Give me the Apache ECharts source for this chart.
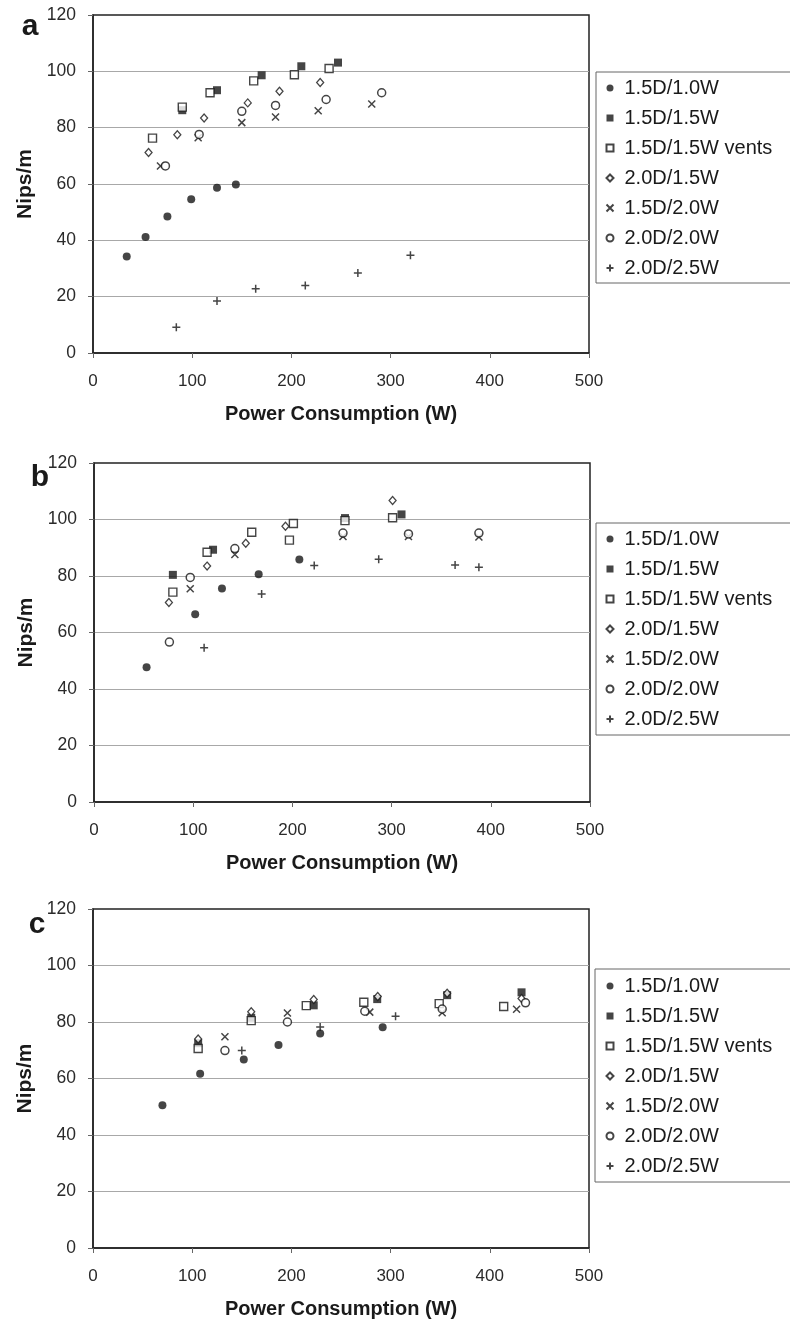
<!DOCTYPE html>
<html>
<head>
<meta charset="utf-8">
<script src="https://cdn.jsdelivr.net/npm/echarts@6/dist/echarts.min.js"></script>
<style>
html,body{margin:0;padding:0;background:#fff;}
#chart{width:790px;height:1324px;}
</style>
</head>
<body>
<div id="chart"></div>
<script>
// ---- Data ----
const seriesNames = ['1.5D/1.0W','1.5D/1.5W','1.5D/1.5W vents','2.0D/1.5W','1.5D/2.0W','2.0D/2.0W','2.0D/2.5W'];
const panelLabels = ['a','b','c'];
const xTicks = [0,100,200,300,400,500];
const yTicks = [0,20,40,60,80,100,120];

// Panel a
const a_15D10W = [[34,34.3],[53,41.2],[75,48.5],[99,54.6],[125,58.7],[144,59.8]];
const a_15D15W = [[90,86.2],[125,93.3],[170,98.6],[210,101.8],[247,103.1]];
const a_15D15Wv = [[60,76.3],[90,87.3],[118,92.4],[162,96.6],[203,98.8],[238,101]];
const a_20D15W = [[56,71.2],[85,77.5],[112,83.4],[156,88.8],[188,92.9],[229,96]];
const a_15D20W = [[68,66.4],[106,76.4],[150,81.8],[184,83.8],[227,86],[281,88.4]];
const a_20D20W = [[73,66.4],[107,77.6],[150,85.8],[184,87.9],[235,90],[291,92.4]];
const a_20D25W = [[84,9.1],[125,18.5],[164,22.8],[214,24],[267,28.4],[320,34.7]];

// Panel b
const b_15D10W = [[53,47.7],[102,66.5],[129,75.6],[166,80.6],[207,85.8]];
const b_15D15W = [[79.5,80.4],[120,89.3],[253,100.5],[310,101.8]];
const b_15D15Wv = [[79.5,74.3],[114,88.4],[159,95.5],[197,92.7],[201,98.6],[253,99.6],[301,100.6]];
const b_20D15W = [[75.5,70.6],[114,83.5],[153,91.6],[193,97.6],[301,106.7]];
const b_15D20W = [[97,75.5],[142,87.6],[251,94],[317,94],[388,93.8]];
const b_20D20W = [[76,56.6],[97,79.5],[142,89.7],[251,95.2],[317,94.9],[388,95.2]];
const b_20D25W = [[111,54.6],[169,73.6],[222,83.7],[287,85.9],[364,83.9],[388,83.1]];

// Panel c
const c_15D10W = [[70,50.5],[108,61.7],[152,66.7],[187,71.9],[229,75.9],[292,78.1]];
const c_15D15W = [[106,72.5],[159.5,81.5],[222.5,85.9],[286.5,88.1],[357,89.5],[432,90.5]];
const c_15D15Wv = [[106,70.6],[159.5,80.5],[215,85.8],[273,87],[349,86.5],[414,85.5]];
const c_20D15W = [[106,74],[159.5,83.6],[222.5,88],[287,89],[357,90.2],[432,88.3]];
const c_15D20W = [[133,74.8],[196,83.2],[279,83.5],[352,83.3],[427,84.5]];
const c_20D20W = [[133,69.9],[196,80],[274,83.8],[352,84.6],[436,86.8]];
const c_20D25W = [[150,69.9],[229,78.2],[305,82]];

const panels = [
  [a_15D10W,a_15D15W,a_15D15Wv,a_20D15W,a_15D20W,a_20D20W,a_20D25W],
  [b_15D10W,b_15D15W,b_15D15Wv,b_20D15W,b_15D20W,b_20D20W,b_20D25W],
  [c_15D10W,c_15D15W,c_15D15Wv,c_20D15W,c_15D20W,c_20D20W,c_20D25W]
];

// ---- Styles ----
const INK = '#161616';
const symbolDefs = [
  {symbol:'circle', symbolSize:8, itemStyle:{color:INK}},
  {symbol:'rect', symbolSize:8, itemStyle:{color:INK}},
  {symbol:'rect', symbolSize:8, itemStyle:{color:'#fff', borderColor:INK, borderWidth:1.4}},
  {symbol:'diamond', symbolSize:[7,8], itemStyle:{color:'#fff', borderColor:INK, borderWidth:1.3}},
  {symbol:'path://M0,0L10,10M10,0L0,10', symbolSize:7, itemStyle:{color:'none', borderColor:INK, borderWidth:1.5}},
  {symbol:'circle', symbolSize:8, itemStyle:{color:'#fff', borderColor:INK, borderWidth:1.5}},
  {symbol:'path://M5,0L5,10M0,5L10,5', symbolSize:8, itemStyle:{color:'none', borderColor:INK, borderWidth:1.5}}
];

const grids = [
  {left:93, right:201, top:15, height:338},
  {left:94, right:200, top:463, height:339},
  {left:93, right:201, top:909, height:339}
];
const legendTops = [78, 529, 976];
const legendBoxes = [[596,72,211],[596,523,212],[595,969,213]];
const labelPos = [[30,27],[40,478],[37,925]];

const FONT = 'Liberation Sans, Arial, sans-serif';

const option = {
  backgroundColor:'#fff',
  animation:false,
  grid: grids.map(g => Object.assign({show:true, borderColor:'#222', borderWidth:1.5, backgroundColor:'transparent'}, g)),
  xAxis: grids.map((g,i) => ({
    gridIndex:i, type:'value', min:xTicks[0], max:xTicks[xTicks.length-1], interval:100,
    name:'Power Consumption (W)', nameLocation:'middle', nameGap:51,
    nameTextStyle:{fontFamily:FONT, fontWeight:'bold', fontSize:20, color:'#1a1a1a'},
    axisLine:{show:true, onZero:false, lineStyle:{color:'#222', width:1.5}},
    axisTick:{show:true, inside:false, length:5, lineStyle:{color:'#666'}},
    axisLabel:{margin:20, fontFamily:FONT, fontSize:17, color:'#2a2a2a'},
    splitLine:{show:false}
  })),
  yAxis: grids.map((g,i) => ({
    gridIndex:i, type:'value', min:yTicks[0], max:yTicks[yTicks.length-1], interval:20,
    name:'Nips/m', nameLocation:'middle', nameGap:57, nameRotate:90,
    nameTextStyle:{fontFamily:FONT, fontWeight:'bold', fontSize:21, color:'#1a1a1a'},
    axisLine:{show:true, onZero:false, lineStyle:{color:'#222', width:1.5}},
    axisTick:{show:true, inside:false, length:5, lineStyle:{color:'#666'}},
    axisLabel:{margin:17, fontFamily:FONT, fontSize:17.5, color:'#2a2a2a'},
    splitLine:{show:true, showMinLine:false, showMaxLine:false, lineStyle:{color:'#a8a8a8', width:1}}
  })),
  legend: legendTops.map((t,i) => ({
    data: seriesNames, orient:'vertical', left:604, top:t, padding:0,
    itemWidth:7, itemHeight:7, itemGap:10, selectedMode:false,
    textStyle:{fontFamily:FONT, fontSize:20, lineHeight:20, color:'#1a1a1a', padding:[0,0,0,6]}
  })),
  graphic: [].concat(
    legendBoxes.map(b => ({type:'rect', shape:{x:b[0], y:b[1], width:260, height:b[2]}, style:{fill:'none', stroke:'#666', lineWidth:1}, silent:true})),
    labelPos.map((p,i) => ({type:'text', x:p[0], y:p[1], style:{text:panelLabels[i], font:'bold 30px Liberation Sans, Arial, sans-serif', fill:'#1a1a1a', textAlign:'center', textVerticalAlign:'middle'}}))
  ),
  series: []
};

panels.forEach((panel, p) => {
  panel.forEach((data, s) => {
    option.series.push(Object.assign({
      type:'scatter', name:seriesNames[s], xAxisIndex:p, yAxisIndex:p, data:data,
      emphasis:{disabled:true}
    }, JSON.parse(JSON.stringify(symbolDefs[s]))));
  });
});

const chart = echarts.init(document.getElementById('chart'), null, {renderer:'canvas'});
chart.setOption(option);
</script>
</body>
</html>
